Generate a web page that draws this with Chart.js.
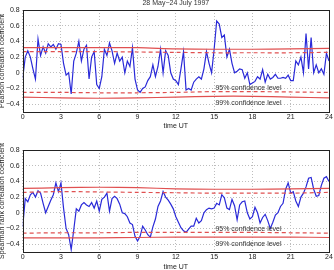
<!DOCTYPE html>
<html>
<head>
<meta charset="utf-8">
<script src="https://cdn.jsdelivr.net/npm/chart.js@4"></script>
<style>
html, body { margin: 0; padding: 0; background: #fff; }
#wrap { position: relative; width: 334px; height: 270px; overflow: hidden; }
canvas { position: absolute; left: 0; }
</style>
</head>
<body>
<div id="wrap">
  <canvas id="pearsonChart" width="334" height="135" style="top:0"></canvas>
  <canvas id="spearmanChart" width="334" height="135" style="top:135px"></canvas>
</div>
<script>
// correlation samples, one every 0.2 h from 0 to 24 UT
const sampleStep = 0.2;
const pearson = [
  -0.07, 0.2, 0.28, 0.2, 0.05, -0.08, 0.43, 0.22, 0.33, 0.25,
  0.37, 0.33, 0.36, 0.3, 0.37, 0.36, 0.12, -0.03, 0.0, -0.27,
  0.15, 0.25, 0.4, 0.15, 0.3, 0.35, -0.08, 0.2, 0.27, -0.15,
  -0.2, -0.05, 0.3, 0.22, 0.38, 0.28, 0.12, 0.25, 0.15, 0.2,
  0.0, 0.15, 0.08, 0.32, -0.08, -0.22, -0.25, -0.2, -0.18, -0.1,
  -0.05, 0.1, -0.05, 0.08, 0.3, 0.0, 0.28, 0.22, 0.0, -0.08,
  -0.1, -0.15, 0.05, 0.27, -0.22, -0.2, -0.22, -0.12, -0.08, -0.05,
  -0.08, 0.05, 0.27, 0.12, 0.0, 0.3, 0.66, 0.62, 0.45, 0.48,
  0.2, 0.3, 0.12, 0.0, 0.02, 0.05, 0.04, -0.07, 0.0, -0.15,
  -0.13, -0.11, -0.05, -0.08, 0.04, -0.12, -0.02, -0.08, -0.06, -0.02,
  -0.07, -0.07, -0.06, -0.07, -0.03, -0.1, -0.1, 0.15, 0.1, 0.2,
  0.0, 0.5, 0.05, 0.45, 0.0, 0.1, 0.0, 0.05, -0.02, 0.25,
  0.15
];
const spearman = [
  -0.18, 0.18, 0.14, 0.23, 0.26, 0.2, 0.28, 0.25, 0.12, 0.0,
  0.08, 0.16, 0.23, 0.38, 0.27, 0.38, 0.06, -0.2, -0.28, -0.47,
  -0.22, 0.05, 0.02, 0.1, 0.13, 0.1, 0.08, 0.13, 0.06, 0.15,
  0.02, 0.17, 0.2, 0.25, 0.02, 0.18, 0.21, 0.18, 0.11, 0.0,
  -0.01, -0.05, -0.13, -0.15, -0.3, -0.36, -0.3, -0.17, -0.22, -0.28,
  -0.31, -0.18, -0.08, 0.08, 0.15, 0.27, 0.2, 0.16, 0.11, 0.05,
  -0.05, -0.12, -0.19, -0.23, -0.25, -0.21, -0.17, -0.17, -0.07, -0.13,
  -0.1, 0.0, 0.04, 0.06, 0.05, 0.06, 0.12, 0.1, 0.23, 0.19,
  0.06, 0.04, 0.17, 0.09, -0.09, 0.1, 0.14, 0.15, 0.0, -0.08,
  -0.05, 0.07, 0.0, -0.13, -0.06, -0.02, -0.1, -0.2, -0.12, -0.03,
  0.0, 0.08, 0.12, 0.3, 0.38, 0.25, 0.27, 0.15, 0.08, 0.2,
  0.25, 0.33, 0.44, 0.45, 0.3, 0.21, 0.22, 0.35, 0.44, 0.46,
  0.4
];

// confidence levels, sampled every 3 h
const confTimes = [0, 3, 6, 9, 12, 15, 18, 21, 24];
const pearson99Up = [0.32, 0.32, 0.32, 0.32, 0.305, 0.30, 0.30, 0.305, 0.31];
const pearson95Up = [0.27, 0.27, 0.27, 0.265, 0.26, 0.255, 0.255, 0.255, 0.26];
const pearson95Low = [-0.25, -0.25, -0.255, -0.255, -0.25, -0.24, -0.24, -0.245, -0.25];
const pearson99Low = [-0.31, -0.32, -0.325, -0.32, -0.31, -0.30, -0.30, -0.31, -0.32];
const spearman99Up = [0.31, 0.32, 0.325, 0.32, 0.305, 0.30, 0.30, 0.305, 0.31];
const spearman95Up = [0.26, 0.27, 0.265, 0.26, 0.255, 0.25, 0.25, 0.25, 0.26];
const spearman95Low = [-0.26, -0.255, -0.255, -0.25, -0.25, -0.25, -0.25, -0.255, -0.26];
const spearman99Low = [-0.32, -0.32, -0.32, -0.315, -0.31, -0.31, -0.31, -0.31, -0.315];

const xTicks = [0, 3, 6, 9, 12, 15, 18, 21, 24];
const yTicks = [-0.4, -0.2, 0, 0.2, 0.4, 0.6, 0.8];

const FONT = '"Liberation Sans", Arial, sans-serif';
const FSIZE = 7;
const RED = '#e05050';
const BLUE = '#2a2ad8';

const toPoints = (xs, ys) => ys.map((v, i) => ({ x: xs[i], y: v }));

const framePlugin = {
  id: 'frame',
  afterDraw(chart, args, o) {
    const { ctx, chartArea: a, scales: { x, y } } = chart;
    ctx.save();
    ctx.strokeStyle = '#222';
    ctx.lineWidth = 1;
    ctx.strokeRect(Math.round(a.left) + 0.5, Math.round(a.top) + 0.5,
      Math.round(a.right - a.left), Math.round(a.bottom - a.top));
    ctx.fillStyle = '#333';
    ctx.font = FSIZE + 'px ' + FONT;
    ctx.textBaseline = 'middle';
    ctx.textAlign = 'left';
    o.notes.forEach(n => ctx.fillText(n.text, x.getPixelForValue(n.x), y.getPixelForValue(n.y)));
    if (o.title) {
      ctx.textAlign = 'center';
      ctx.textBaseline = 'alphabetic';
      ctx.fillText(o.title, (a.left + a.right) / 2, 4.5);
    }
    ctx.restore();
  }
};

function makeChart(id, values, conf, yTitle, lay) {
  const times = values.map((_, i) => i * sampleStep);
  const redLine = (ys, dashed) => ({
    data: toPoints(confTimes, ys),
    borderColor: RED,
    borderWidth: 1.2,
    borderDash: dashed ? [4, 3] : [],
    pointRadius: 0,
    tension: 0.3,
  });
  return new Chart(document.getElementById(id).getContext('2d'), {
    type: 'line',
    data: {
      datasets: [
        redLine(conf[0], false),
        redLine(conf[1], true),
        redLine(conf[2], true),
        redLine(conf[3], false),
        {
          data: toPoints(times, values),
          borderColor: BLUE,
          borderWidth: 1.2,
          pointRadius: 0,
          tension: 0,
        }
      ]
    },
    options: {
      responsive: false,
      animation: false,
      events: [],
      layout: { padding: { top: lay.top, right: 5, left: 0, bottom: 0 } },
      plugins: {
        legend: { display: false },
        tooltip: { enabled: false },
        frame: { notes: lay.notes, title: lay.title },
      },
      scales: {
        x: {
          type: 'linear',
          min: 0,
          max: 24,
          afterBuildTicks: s => { s.ticks = xTicks.map(v => ({ value: v })); },
          afterFit: s => { s.height = lay.xHeight; },
          ticks: { color: '#222', padding: 1, font: { family: FONT, size: FSIZE } },
          grid: { color: '#bdbdbd', drawTicks: false },
          border: { display: false, dash: [1, 2] },
          title: {
            display: true, text: 'time UT', color: '#222',
            font: { family: FONT, size: FSIZE }, padding: { top: 0, bottom: lay.xTitlePad },
          },
        },
        y: {
          min: -0.5,
          max: 0.8,
          afterBuildTicks: s => { s.ticks = yTicks.map(v => ({ value: v })); },
          afterFit: s => { s.width = 22.7; },
          ticks: {
            color: '#222', padding: 3, font: { family: FONT, size: FSIZE },
            callback: v => v === 0 ? '0' : (v < 0 ? '\u2212' + (-v).toFixed(1) : v.toFixed(1)),
          },
          grid: { color: '#bdbdbd', drawTicks: false },
          border: { display: false, dash: [1, 2] },
          title: {
            display: true, text: yTitle, color: '#222',
            font: { family: FONT, size: FSIZE }, padding: { top: -1.7, bottom: 0 },
          },
        }
      }
    },
    plugins: [framePlugin]
  });
}

makeChart('pearsonChart', pearson,
  [pearson99Up, pearson95Up, pearson95Low, pearson99Low],
  'Pearson correlation coefficient',
  {
    top: 10, xHeight: 23, xTitlePad: 4.8, title: '28 May\u221224 July 1997',
    notes: [
      { text: '95% confidence level', x: 15.1, y: -0.19 },
      { text: '99% confidence level', x: 15.1, y: -0.385 },
    ],
  });

makeChart('spearmanChart', spearman,
  [spearman99Up, spearman95Up, spearman95Low, spearman99Low],
  'Spearman rank correlation coefficient',
  {
    top: 15, xHeight: 18, xTitlePad: -1.2, title: null,
    notes: [
      { text: '95% confidence level', x: 15.1, y: -0.21 },
      { text: '99% confidence level', x: 15.1, y: -0.40 },
    ],
  });
</script>
</body>
</html>
